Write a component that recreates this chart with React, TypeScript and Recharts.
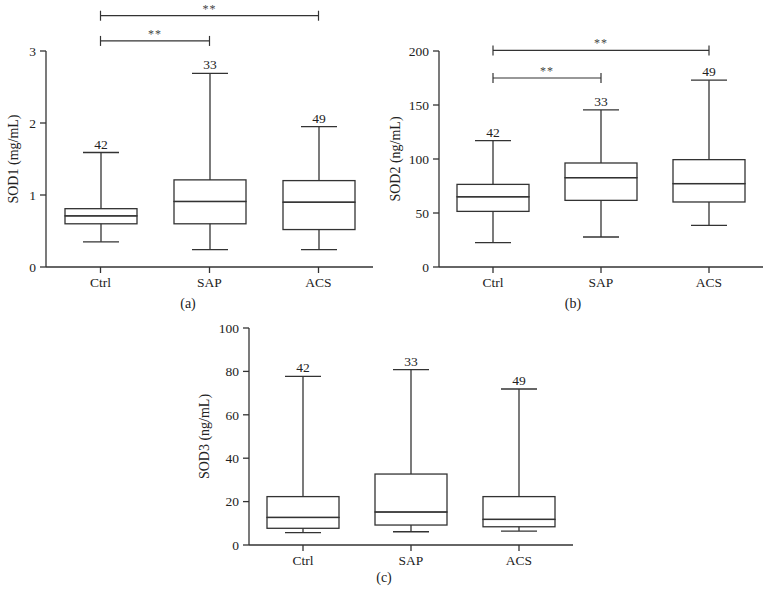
import React from "react";
import { ComposedChart, Bar, XAxis, YAxis, ReferenceLine, LabelList } from "recharts";

const categories = ["Ctrl", "SAP", "ACS"];
const groupCounts = [42, 33, 49];

// SOD1 (mg/mL)
const sod1Min = [0.35, 0.24, 0.24];
const sod1Q1 = [0.6, 0.6, 0.52];
const sod1Median = [0.71, 0.91, 0.9];
const sod1Q3 = [0.81, 1.21, 1.2];
const sod1Max = [1.59, 2.69, 1.95];
const sod1Ticks = [0, 1, 2, 3];

// SOD2 (ng/mL)
const sod2Min = [22.5, 27.8, 38.6];
const sod2Q1 = [51.5, 61.7, 60.2];
const sod2Median = [65, 82.7, 77.2];
const sod2Q3 = [76.5, 96.3, 99.4];
const sod2Max = [117, 145.4, 173];
const sod2Ticks = [0, 50, 100, 150, 200];

// SOD3 (ng/mL)
const sod3Min = [5.7, 6.1, 6.4];
const sod3Q1 = [7.7, 9.2, 8.4];
const sod3Median = [12.7, 15.2, 11.8];
const sod3Q3 = [22.3, 32.7, 22.3];
const sod3Max = [77.7, 80.8, 71.9];
const sod3Ticks = [0, 20, 40, 60, 80, 100];

// significance brackets
const sod1Brackets = [
  { from: "Ctrl", to: "SAP", y: 3.14, mark: "**" },
  { from: "Ctrl", to: "ACS", y: 3.49, mark: "**" },
];
const sod2Brackets = [
  { from: "Ctrl", to: "SAP", y: 175, mark: "**" },
  { from: "Ctrl", to: "ACS", y: 200.5, mark: "**" },
];

const FONT = '"Liberation Serif", "DejaVu Serif", serif';
const INK = "#333";
const TEXT = "#222";

function buildRows(min: number[], q1: number[], median: number[], q3: number[], max: number[]) {
  return categories.map((name, i) => ({
    name,
    n: groupCounts[i],
    base: min[i],
    lowWhisker: q1[i] - min[i],
    lowerBox: median[i] - q1[i],
    upperBox: q3[i] - median[i],
    highWhisker: max[i] - q3[i],
  }));
}

const Empty = () => <g />;

const LowWhisker = (p: any) => {
  const { x, y, width, height } = p;
  const cx = x + width / 2;
  const bottom = y + height;
  return (
    <g stroke={INK} strokeWidth={1.3}>
      <line x1={cx} x2={cx} y1={y} y2={bottom} />
      <line x1={cx - width / 4} x2={cx + width / 4} y1={bottom} y2={bottom} />
    </g>
  );
};

const HighWhisker = (p: any) => {
  const { x, y, width, height } = p;
  const cx = x + width / 2;
  return (
    <g stroke={INK} strokeWidth={1.3}>
      <line x1={cx} x2={cx} y1={y} y2={y + height} />
      <line x1={cx - width / 4} x2={cx + width / 4} y1={y} y2={y} />
    </g>
  );
};

const BoxPart = (p: any) => {
  const { x, y, width, height } = p;
  return <rect x={x} y={y} width={width} height={height} fill="none" stroke={INK} strokeWidth={1.3} />;
};

const bracketShape = (mark: string) => (p: any) => {
  const { x1, x2, y1 } = p;
  return (
    <g>
      <g stroke={INK} strokeWidth={1.2}>
        <line x1={x1} x2={x2} y1={y1} y2={y1} />
        <line x1={x1} x2={x1} y1={y1 - 5} y2={y1 + 5} />
        <line x1={x2} x2={x2} y1={y1 - 5} y2={y1 + 5} />
      </g>
      <text x={(x1 + x2) / 2} y={y1 - 3} textAnchor="middle" fontSize={12} fill="#444" fontFamily={FONT} letterSpacing={1}>
        {mark}
      </text>
    </g>
  );
};

interface PanelProps {
  rows: ReturnType<typeof buildRows>;
  domain: [number, number];
  ticks: number[];
  yLabel: string;
  letter: string;
  brackets: { from: string; to: string; y: number; mark: string }[];
  left: number;
  top: number;
  width: number;
  height: number;
  margin: { top: number; right: number; bottom: number; left: number };
  yAxisWidth: number;
  labelX: number;
  letterX: number;
  letterDy: number;
}

function BoxPanel(props: PanelProps) {
  const { rows, domain, ticks, yLabel, letter, brackets, left, top, width, height, margin, yAxisWidth, labelX, letterX, letterDy } = props;
  const tickStyle = { fontSize: 13.5, fill: TEXT, fontFamily: FONT };

  const yLabelContent = (lp: any) => {
    const vb = lp.viewBox || {};
    const cy = vb.y + vb.height / 2;
    return (
      <text x={labelX} y={cy} transform={`rotate(-90 ${labelX} ${cy})`} textAnchor="middle" dominantBaseline="central" fontSize={14} fill={TEXT} fontFamily={FONT}>
        {yLabel}
      </text>
    );
  };

  const letterContent = (lp: any) => {
    const vb = lp.viewBox || {};
    const y = vb.y + vb.height + letterDy;
    return (
      <text x={letterX} y={y} textAnchor="middle" dominantBaseline="central" fontSize={14} fill={TEXT} fontFamily={FONT}>
        {letter}
      </text>
    );
  };

  return (
    <div style={{ position: "absolute", left, top, width, height }}>
      <ComposedChart width={width} height={height} data={rows} margin={margin}>
        <XAxis
          dataKey="name"
          tick={tickStyle}
          tickLine={{ stroke: INK, strokeWidth: 1.3 }}
          axisLine={{ stroke: INK, strokeWidth: 1.3 }}
          tickSize={6}
          tickMargin={4}
          height={30}
          label={{ content: letterContent }}
        />
        <YAxis
          type="number"
          domain={domain}
          ticks={ticks}
          interval={0}
          width={yAxisWidth}
          tick={tickStyle}
          tickLine={{ stroke: INK, strokeWidth: 1.3 }}
          axisLine={{ stroke: INK, strokeWidth: 1.3 }}
          tickSize={6}
          tickMargin={4}
          label={{ content: yLabelContent }}
        />
        <Bar dataKey="base" stackId="box" barSize={72} shape={<Empty />} isAnimationActive={false} />
        <Bar dataKey="lowWhisker" stackId="box" barSize={72} shape={LowWhisker} isAnimationActive={false} />
        <Bar dataKey="lowerBox" stackId="box" barSize={72} shape={BoxPart} isAnimationActive={false} />
        <Bar dataKey="upperBox" stackId="box" barSize={72} shape={BoxPart} isAnimationActive={false} />
        <Bar dataKey="highWhisker" stackId="box" barSize={72} shape={HighWhisker} isAnimationActive={false}>
          <LabelList dataKey="n" position="top" offset={4} style={{ fontSize: 13.5, fill: TEXT, fontFamily: FONT }} />
        </Bar>
        {brackets.map((b, i) => (
          <ReferenceLine
            key={i}
            segment={[
              { x: b.from, y: b.y },
              { x: b.to, y: b.y },
            ]}
            ifOverflow="visible"
            shape={bracketShape(b.mark)}
          />
        ))}
      </ComposedChart>
    </div>
  );
}

export default function App() {
  const sod1Rows = buildRows(sod1Min, sod1Q1, sod1Median, sod1Q3, sod1Max);
  const sod2Rows = buildRows(sod2Min, sod2Q1, sod2Median, sod2Q3, sod2Max);
  const sod3Rows = buildRows(sod3Min, sod3Q1, sod3Median, sod3Q3, sod3Max);

  return (
    <div style={{ position: "absolute", left: 0, top: 0, width: 772, height: 610, background: "#fff", fontFamily: FONT }}>
      <BoxPanel
        rows={sod1Rows}
        domain={[0, 3]}
        ticks={sod1Ticks}
        yLabel="SOD1 (mg/mL)"
        letter="(a)"
        brackets={sod1Brackets}
        left={0}
        top={0}
        width={386}
        height={320}
        margin={{ top: 51, right: 13, bottom: 23, left: 0 }}
        yAxisWidth={46}
        labelX={13}
        letterX={188}
        letterDy={6}
      />
      <BoxPanel
        rows={sod2Rows}
        domain={[0, 200]}
        ticks={sod2Ticks}
        yLabel="SOD2 (ng/mL)"
        letter="(b)"
        brackets={sod2Brackets}
        left={386}
        top={0}
        width={386}
        height={320}
        margin={{ top: 51, right: 9, bottom: 23, left: 0 }}
        yAxisWidth={53}
        labelX={9}
        letterX={187}
        letterDy={6}
      />
      <BoxPanel
        rows={sod3Rows}
        domain={[0, 100]}
        ticks={sod3Ticks}
        yLabel="SOD3 (ng/mL)"
        letter="(c)"
        brackets={[]}
        left={190}
        top={300}
        width={400}
        height={310}
        margin={{ top: 28, right: 17, bottom: 35, left: 0 }}
        yAxisWidth={59}
        labelX={14}
        letterX={194}
        letterDy={2}
      />
    </div>
  );
}
